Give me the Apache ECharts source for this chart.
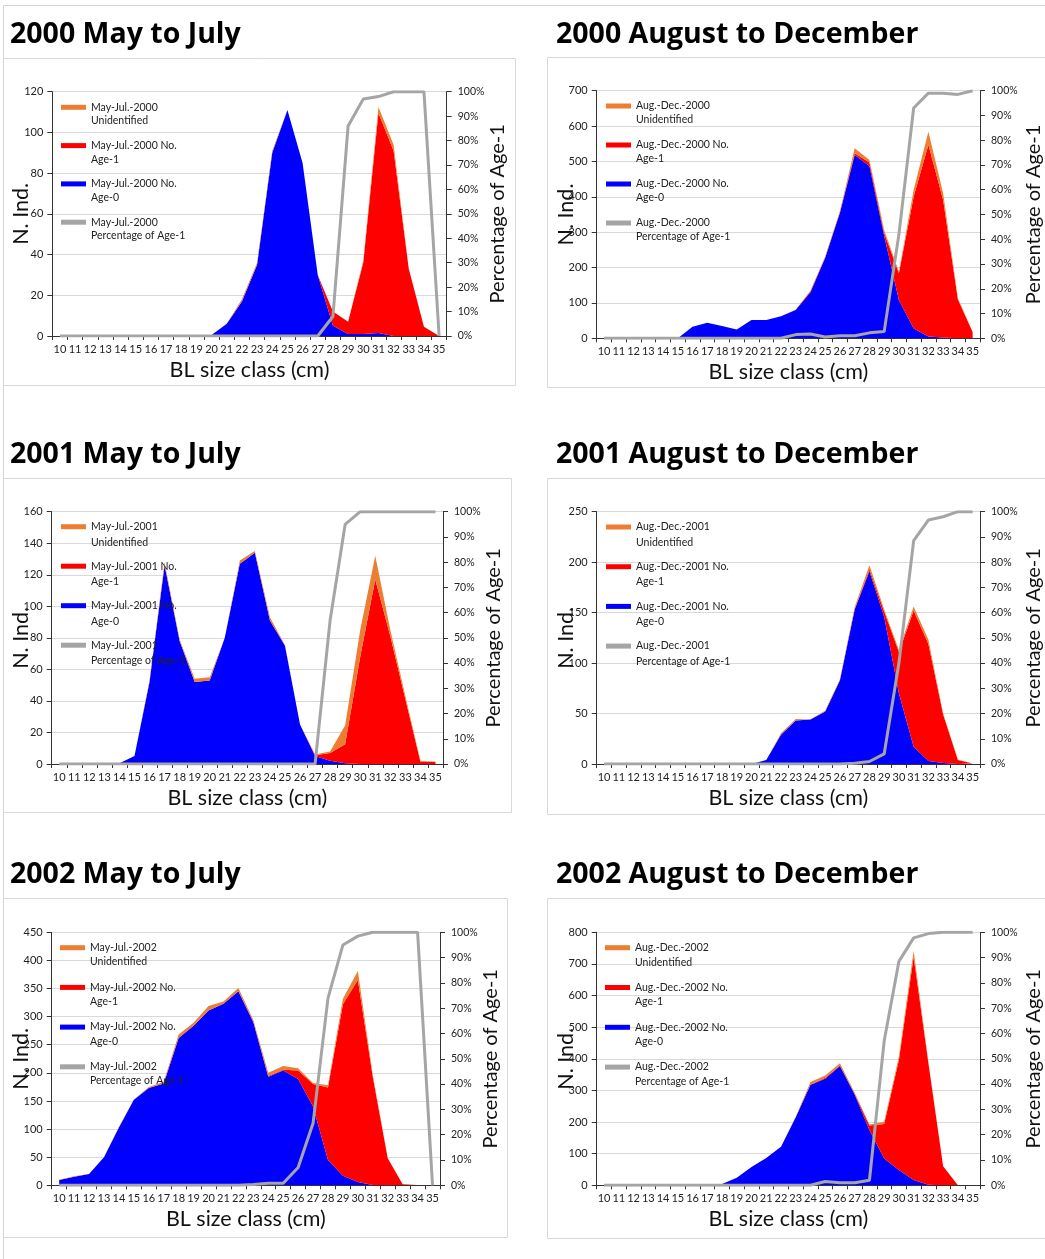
<!DOCTYPE html>
<html>
<head>
<meta charset="utf-8">
<script src="https://cdn.jsdelivr.net/npm/echarts@6/dist/echarts.min.js"></script>
<style>
  html, body { margin: 0; padding: 0; background: #fff; overflow: hidden; }
  #chart { width: 1045px; height: 1259px; }
</style>
</head>
<body>
<div id="chart"></div>
<script>
// ---------- DATA ----------
const sizeClasses = ['10','11','12','13','14','15','16','17','18','19','20','21','22','23','24','25','26','27','28','29','30','31','32','33','34','35'];
const pctTicks = [0,10,20,30,40,50,60,70,80,90,100];

// 2000 May-Jul
const mj2000Age0 = [0,0,0,0,0,0,0,0,0,0.5,0.5,6,17,35,90,111,85,30,5,1,1,1.5,0,0,0,0];
const mj2000Age1 = [0,0,0,0,0,0,0,0,0,0,0,0,0,0,0,0,0,0,7,6,35,108,91,33,4.5,0];
const mj2000Unid = [0,0,0,0,0,0,0,0,0,0,0,0,1,1,1,0,0,0,0,0,1,3,3,0,0,0];
const mj2000Pct  = [0,0,0,0,0,0,0,0,0,0,0,0,0,0,0,0,0,0,8,86,97,98,100,100,100,0];

// 2000 Aug-Dec
const ad2000Age0 = [0,0,0,0,0,0,33,44,35,25,52,52,62,80,130,228,355,518,487,290,108,28,5,2,0,0];
const ad2000Age1 = [0,0,0,0,0,0,0,0,0,0,0,0,0,1,2,1,2,5,10,8,76,372,542,389,110,18];
const ad2000Unid = [0,0,0,0,0,0,0,0,0,0,0,0,0,0,3,2,3,14,7,8,4,19,37,19,3,1];
const ad2000Pct  = [0,0,0,0,0,0,0,0,0,0,0,0,0,1.5,1.7,0.5,1,1,2.2,2.7,42,93,99,99,98.5,100];

// 2001 May-Jul
const mj2001Age0 = [0,0,0,0,0.5,5,52,126,78,52,53,80,127,134,91,75,25,5,2,0.5,0,0,0,0,0,0];
const mj2001Age1 = [0,0,0,0,0,0,0,0,0,0,0,0,0,0,0,0,0,0.5,5,12,68,117,81,41,1.5,1.5];
const mj2001Unid = [0,0,0,0,0,0,1,2,1,2,2,0,2,1,2,0.5,0,0.5,1,12,17,15,4,2,0.5,0];
const mj2001Pct  = [0,0,0,0,0,0,0,0,0,0,0,0,0,0,0,0,0,0,57,95,100,100,100,100,100,100];

// 2001 Aug-Dec
const ad2001Age0 = [0,0,0,0,0,0,0,0,0,0,0,4,29,43,44,52,83,153,191,146,70,17,3,1,0,0];
const ad2001Age1 = [0,0,0,0,0,0,0,0,0,0,0,0,0,0,0,0,0,0.5,2,5,41,135,116,48,4,0.5];
const ad2001Unid = [0,0,0,0,0,0,0,0,0,0,0,0,1.5,1.5,0,1,1,2,4,2,2,4,4,1,0.5,0];
const ad2001Pct  = [0,0,0,0,0,0,0,0,0,0,0,0,0,0,0,0,0,0.3,1,4,40,88.5,96.7,98,100,100];

// 2002 May-Jul
const mj2002Age0 = [9.5,15,20,50,103,152,173,181,262,284,311,323,345,290,193,204,189,140,45,17,6,0.5,0,0,0,0];
const mj2002Age1 = [0,0,0,0,0,0,0,0,0,0,0,0,0,1,1.5,1.5,15,40,129,305,359,192,48,2,0.5,0];
const mj2002Unid = [0.5,1,0,0,1,0,2,3,6,5,8,4,6,3,5.5,6.5,4,2,4,10,16,3.5,0,0,0,0];
const mj2002Pct  = [0,0,0,0,0,0,0,0,0,0,0,0,0,0.3,0.8,0.8,7,24.5,74,95,98.5,100,100,100,100,0];

// 2002 Aug-Dec
const ad2002Age0 = [0,0,0,0,0,0,0,0,4,24,58,86,122,215,318,337,377,287,175,85,48,17,2,0,0,0];
const ad2002Age1 = [0,0,0,0,0,0,0,0,0,0,0,0,0,0,0,3,2,2,14,109,348,706,385,60,0,0];
const ad2002Unid = [0,0,0,0,0,0,0,0,0,0,0,0,0,2,9,7,7,4,3,7,11,19,3,0,0,0];
const ad2002Pct  = [0,0,0,0,0,0,0,0,0,0,0,0,0,0,0,1.5,1,1,2,57,88.5,97.8,99.5,100,100,100];

const panelTitles = ['2000 May to July','2000 August to December','2001 May to July','2001 August to December','2002 May to July','2002 August to December'];
const seriesPrefix = ['May-Jul.-2000','Aug.-Dec.-2000','May-Jul.-2001','Aug.-Dec.-2001','May-Jul.-2002','Aug.-Dec.-2002'];
const leftMax = [120, 700, 160, 250, 450, 800];
const leftStep = [20, 100, 20, 50, 50, 100];

const panelData = [
  [mj2000Age0, mj2000Age1, mj2000Unid, mj2000Pct],
  [ad2000Age0, ad2000Age1, ad2000Unid, ad2000Pct],
  [mj2001Age0, mj2001Age1, mj2001Unid, mj2001Pct],
  [ad2001Age0, ad2001Age1, ad2001Unid, ad2001Pct],
  [mj2002Age0, mj2002Age1, mj2002Unid, mj2002Pct],
  [ad2002Age0, ad2002Age1, ad2002Unid, ad2002Pct]
];

// ---------- LAYOUT ----------
const L = [
  {gl:52.3, gr:446.7, gt:91.7,  gb:336,    tx:10,  ty:20,  box:[3,58,512,327],   lgx:61,  lgy:107.3, lh:13.7, sp:38.3, rg:41},
  {gl:596.7,gr:986.7, gt:90.7,  gb:338.3,  tx:556, ty:20,  box:[547,57,600,330], lgx:606, lgy:106,   lh:14,   sp:39,   rg:44},
  {gl:51.7, gr:443,   gt:511.7, gb:764,    tx:10,  ty:440, box:[3,478,508,334],  lgx:61,  lgy:526.7, lh:15.5, sp:39.5, rg:41},
  {gl:596.7,gr:988,   gt:511.7, gb:764,    tx:556, ty:440, box:[547,478,600,336],lgx:606, lgy:527,   lh:15.3, sp:39.7, rg:44},
  {gl:51.7, gr:440,   gt:932.3, gb:1185.3, tx:10,  ty:860, box:[3,898,504,339],  lgx:60,  lgy:947.7, lh:14.3, sp:39.7, rg:41},
  {gl:596.7,gr:985.7, gt:932.3, gb:1185.3, tx:556, ty:860, box:[547,898,600,340],lgx:605, lgy:947.7, lh:14.5, sp:39.8, rg:44}
];

const FONT = 'Lato, "Open Sans", "Noto Sans", sans-serif';
const TFONT = '"Open Sans", "Noto Sans", sans-serif';
const C_BLUE = '#0000FF', C_RED = '#FF0000', C_ORANGE = '#ED7D31', C_GRAY = '#A5A5A5';

const option = {
  animation: false,
  backgroundColor: '#fff',
  textStyle: { fontFamily: FONT },
  title: [], grid: [], xAxis: [], yAxis: [], series: [], legend: [],
  graphic: []
};

// outer frame lines
option.graphic.push({ type:'line', shape:{x1:3,y1:5.5,x2:1045,y2:5.5}, style:{stroke:'#d4d4d4', lineWidth:1}, silent:true });
option.graphic.push({ type:'line', shape:{x1:3.5,y1:5,x2:3.5,y2:1259}, style:{stroke:'#d4d4d4', lineWidth:1}, silent:true });

for (let i = 0; i < 6; i++) {
  const p = L[i];
  const [age0, age1, unid, pct] = panelData[i];
  const pre = seriesPrefix[i];
  const names = [pre + '\nUnidentified', pre + ' No.\nAge-1', pre + ' No.\nAge-0', pre + '\nPercentage of Age-1'];

  option.graphic.push({ type:'rect', shape:{x:p.box[0]+0.5, y:p.box[1]+0.5, width:p.box[2], height:p.box[3]},
    style:{fill:'none', stroke:'#d9d9d9', lineWidth:1}, silent:true, z:-1 });

  option.title.push({ text: panelTitles[i], left: p.tx, top: p.ty, padding: 0,
    textStyle: { fontFamily: TFONT, fontWeight: 'bold', fontSize: 28.5, color: '#000' } });

  option.grid.push({ left: p.gl, top: p.gt, width: p.gr - p.gl, height: p.gb - p.gt, containLabel: false });

  option.xAxis.push({
    type: 'category', gridIndex: i, data: sizeClasses, boundaryGap: true,
    name: 'BL size class (cm)', nameLocation: 'middle', nameGap: 23, nameMoveOverlap: false,
    nameTextStyle: { fontFamily: FONT, fontSize: 21.5, color: '#111' },
    axisLine: { lineStyle: { color: '#333', width: 1 } },
    axisTick: { show: true, inside: false, length: 4, alignWithLabel: false, interval: 0, lineStyle:{color:'#333'} },
    axisLabel: { interval: 0, margin: 8, fontFamily: FONT, fontSize: 11, color: '#222' },
    splitLine: { show: false }
  });

  option.yAxis.push({
    type: 'value', gridIndex: i, min: 0, max: leftMax[i], interval: leftStep[i], position: 'left',
    name: 'N. Ind.', nameLocation: 'middle', nameGap: 20, nameMoveOverlap: false,
    nameTextStyle: { fontFamily: FONT, fontSize: 21.5, color: '#111' },
    axisLine: { show: true, lineStyle: { color: '#333', width: 1 } },
    axisTick: { show: true, inside: false, length: 5, lineStyle:{color:'#333'} },
    axisLabel: { margin: 9, fontFamily: FONT, fontSize: 11, color: '#222' },
    splitLine: { show: true, lineStyle: { color: '#d9d9d9', width: 1 } }
  });
  option.yAxis.push({
    type: 'value', gridIndex: i, min: pctTicks[0], max: pctTicks[pctTicks.length-1], interval: pctTicks[1]-pctTicks[0], position: 'right',
    name: 'Percentage of Age-1', nameLocation: 'middle', nameGap: p.rg, nameMoveOverlap: false,
    nameTextStyle: { fontFamily: FONT, fontSize: 20, color: '#111' },
    axisLine: { show: true, lineStyle: { color: '#333', width: 1 } },
    axisTick: { show: true, inside: false, length: 5, lineStyle:{color:'#333'} },
    axisLabel: { margin: 11, fontFamily: FONT, fontSize: 10.5, color: '#222', formatter: '{value}%' },
    splitLine: { show: false }
  });

  const area = (name, data, color, z) => ({
    name, type: 'line', xAxisIndex: i, yAxisIndex: 2*i, stack: 'p' + i, data,
    symbol: 'none', smooth: false, z,
    lineStyle: { width: 0, color }, itemStyle: { color },
    areaStyle: { color, opacity: 1 }, emphasis: { disabled: true }
  });
  option.series.push(area(names[2], age0, C_BLUE, 2));
  option.series.push(area(names[1], age1, C_RED, 2));
  option.series.push(area(names[0], unid, C_ORANGE, 2));
  option.series.push({
    name: names[3], type: 'line', xAxisIndex: i, yAxisIndex: 2*i+1, data: pct,
    symbol: 'none', z: 5, lineStyle: { width: 3, color: C_GRAY }, itemStyle: { color: C_GRAY },
    emphasis: { disabled: true }
  });

  option.legend.push({
    data: names, orient: 'vertical', left: p.lgx, top: p.lgy - 1.5 * p.lh,
    padding: 0, itemWidth: 25, itemHeight: 5, itemGap: p.sp - 3 * p.lh,
    icon: 'rect', selectedMode: false,
    formatter: n => ' \n' + n,
    textStyle: { fontFamily: FONT, fontSize: 10.5, color: '#222', lineHeight: p.lh }
  });
}

const chart = echarts.init(document.getElementById('chart'), null, { renderer: 'canvas', width: 1045, height: 1259 });
chart.setOption(option);
</script>
</body>
</html>
